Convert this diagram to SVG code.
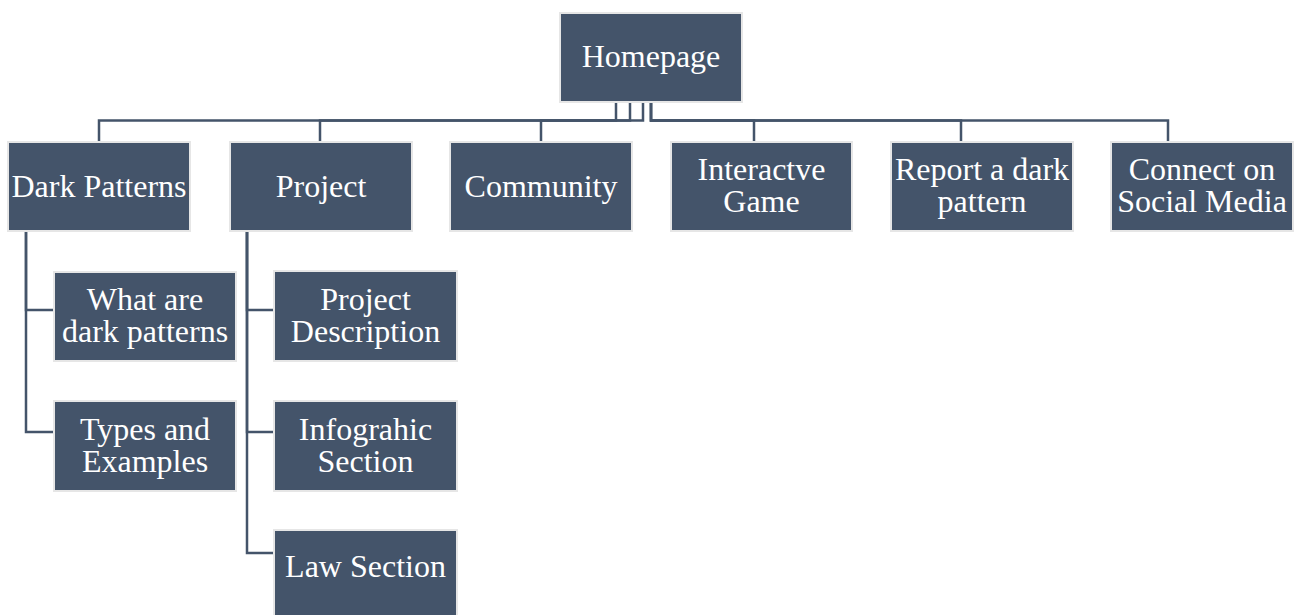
<svg xmlns="http://www.w3.org/2000/svg" width="1301" height="615" viewBox="0 0 1301 615">
<style>
.box{fill:#44546a;stroke:#e6e6e6;stroke-width:2}
.t{font-family:"Liberation Serif","Times New Roman",serif;font-size:32px;fill:#ffffff;text-anchor:middle}
.c{fill:none;stroke:#44546a;stroke-width:2.5}
</style>
<rect width="1301" height="615" fill="#ffffff"/>
<g id="connectors">
<path class="c" d="M616,102 V120.5 H99 V141"/>
<path class="c" d="M630,102 V120.5 H320 V141"/>
<path class="c" d="M643,102 V120.5 H541 V141"/>
<path class="c" d="M651,102 V120.5 H754 V141"/>
<path class="c" d="M651,102 V120.5 H961 V141"/>
<path class="c" d="M651,102 V120.5 H1168 V141"/>
<path class="c" d="M26,232 V310 H54"/>
<path class="c" d="M26,232 V432 H54"/>
<path class="c" d="M247,232 V310 H274"/>
<path class="c" d="M247,232 V432 H274"/>
<path class="c" d="M247,232 V553 H274"/>
</g>
<g id="homepage"><rect class="box" x="560" y="13" width="182" height="89"/><text class="t" x="651" y="67">Homepage</text></g>
<g id="dark-patterns"><rect class="box" x="8" y="142" width="182" height="89"/><text class="t" x="99" y="197">Dark Patterns</text></g>
<g id="project"><rect class="box" x="230" y="142" width="182" height="89"/><text class="t" x="321" y="197">Project</text></g>
<g id="community"><rect class="box" x="450" y="142" width="182" height="89"/><text class="t" x="541" y="197">Community</text></g>
<g id="interactive-game"><rect class="box" x="671" y="142" width="181" height="89"/><text class="t" x="761.5" y="180">Interactve</text><text class="t" x="761.5" y="212">Game</text></g>
<g id="report"><rect class="box" x="891" y="142" width="182" height="89"/><text class="t" x="982" y="180">Report a dark</text><text class="t" x="982" y="212">pattern</text></g>
<g id="connect"><rect class="box" x="1111" y="142" width="182" height="89"/><text class="t" x="1202" y="180">Connect on</text><text class="t" x="1202" y="212">Social Media</text></g>
<g id="what-are"><rect class="box" x="54" y="272" width="182" height="89"/><text class="t" x="145" y="310">What are</text><text class="t" x="145" y="342">dark patterns</text></g>
<g id="types"><rect class="box" x="54" y="401" width="182" height="90"/><text class="t" x="145" y="440">Types and</text><text class="t" x="145" y="472">Examples</text></g>
<g id="project-description"><rect class="box" x="274" y="271" width="183" height="90"/><text class="t" x="365.5" y="310">Project</text><text class="t" x="365.5" y="342">Description</text></g>
<g id="infographic"><rect class="box" x="274" y="401" width="183" height="90"/><text class="t" x="365.5" y="440">Infograhic</text><text class="t" x="365.5" y="472">Section</text></g>
<g id="law"><rect class="box" x="274" y="530" width="183" height="90"/><text class="t" x="365.5" y="577">Law Section</text></g>
</svg>
